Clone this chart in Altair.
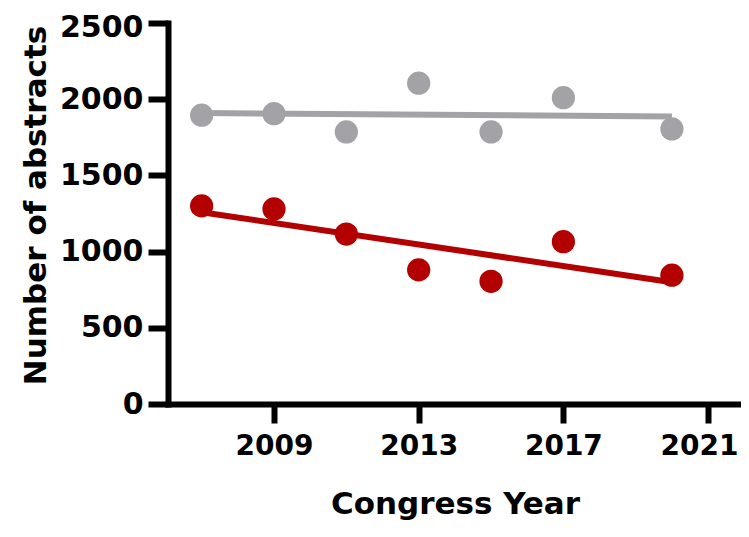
import altair as alt
import pandas as pd

# ---- data ----
years = [2007, 2009, 2011, 2013, 2015, 2017, 2020]
gray_values = [1895, 1905, 1785, 2105, 1785, 2010, 1805]
red_values = [1300, 1280, 1115, 880, 805, 1065, 845]
series_names = ["Gray", "Red"]
x_ticks = [2009, 2013, 2017, 2021]
y_ticks = [0, 500, 1000, 1500, 2000, 2500]

df = pd.DataFrame({
    "year": years + years,
    "abstracts": gray_values + red_values,
    "series": [series_names[0]] * len(years) + [series_names[1]] * len(years),
})

FONT = "DejaVu Sans"
color_scale = alt.Scale(domain=series_names, range=["#a3a3a7", "#b30000"])

x_enc = alt.X(
    "year:Q",
    scale=alt.Scale(domain=[2006.07, 2021.91], nice=False, zero=False),
    axis=alt.Axis(
        values=x_ticks, format="d", title="Congress Year",
        tickSize=19, labelPadding=9, labelFontSize=28,
        labelOffset={"condition": {"test": "datum.value === 2021", "value": -9}, "value": 0},
        titleX=287, titleY=109, titleBaseline="alphabetic",
    ),
)
y_enc = alt.Y(
    "abstracts:Q",
    scale=alt.Scale(domain=[0, 2500], nice=False),
    axis=alt.Axis(
        values=y_ticks, format="d", title="Number of abstracts",
        tickSize=20, labelPadding=5,
        labelOffset={"condition": {"test": "datum.value === 2500", "value": 4}, "value": 0},
        titleX=-123, titleY=182, titleBaseline="alphabetic", titleAngle=-90,
    ),
)

base = alt.Chart(df)

lines = base.transform_regression(
    "year", "abstracts", groupby=["series"], extent=[2007, 2020]
).mark_line(strokeWidth=6).encode(
    x=x_enc, y=y_enc,
    color=alt.Color("series:N", scale=color_scale, legend=None),
)

points = base.mark_circle(size=540, opacity=1).encode(
    x=x_enc, y=y_enc,
    color=alt.Color("series:N", scale=color_scale, legend=None),
)

chart = (
    alt.layer(lines, points)
    .properties(
        width=573, height=381,
        autosize=alt.AutoSizeParams(type="none"),
        padding={"left": 160, "top": 15, "right": 0, "bottom": 120},
    )
    .configure_view(stroke=None)
    .configure_axis(
        grid=False,
        domainColor="black", domainWidth=6, domainCap="square",
        tickColor="black", tickWidth=6,
        labelFont=FONT, labelFontWeight="bold", labelFontSize=30, labelColor="black",
        titleFont=FONT, titleFontWeight="bold", titleFontSize=31, titleColor="black",
    )
)

chart.save("out.html", embed_options={"renderer": "svg", "actions": False})
